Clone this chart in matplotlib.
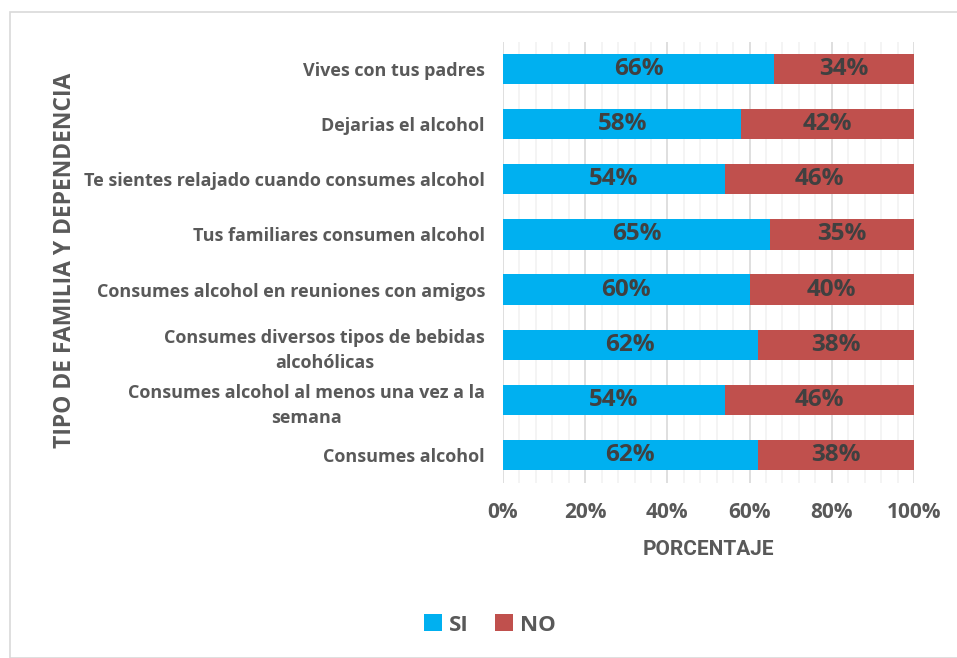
import matplotlib.pyplot as plt
from matplotlib.patches import Rectangle
from matplotlib.ticker import MultipleLocator, PercentFormatter

categories = [
    "Vives con tus padres",
    "Dejarias el alcohol",
    "Te sientes relajado cuando consumes alcohol",
    "Tus familiares consumen alcohol",
    "Consumes alcohol en reuniones con amigos",
    "Consumes diversos tipos de bebidas\nalcohólicas",
    "Consumes alcohol al menos una vez a la\nsemana",
    "Consumes alcohol",
]
si_values = [66, 58, 54, 65, 60, 62, 54, 62]
no_values = [34, 42, 46, 35, 40, 38, 46, 38]
series_names = ["SI", "NO"]
x_ticks = [0, 20, 40, 60, 80, 100]

FONT = "Open Sans"
plt.rcParams['font.family'] = [FONT, 'DejaVu Sans']

fig = plt.figure(figsize=(9.57, 6.58), dpi=100)
W, H = 957, 658
fig.patches.append(Rectangle((10 / W, 0), 1, 1 - 12 / H, transform=fig.transFigure,
                             fill=False, edgecolor='#D9D9D9', linewidth=1.2, zorder=0))

ax = fig.add_axes([503 / W, 1 - 482.5 / H, (914 - 503) / W, (482.5 - 41.5) / H])

y = list(range(len(categories)))
c_si = '#00B0F0'
c_no = '#C0504D'
b1 = ax.barh(y, si_values, height=0.55, color=c_si, label=series_names[0], zorder=3)
b2 = ax.barh(y, no_values, left=si_values, height=0.55, color=c_no, label=series_names[1], zorder=3)

for bars in (b1, b2):
    for r in bars:
        ax.text(r.get_x() + r.get_width() / 2, r.get_y() + r.get_height() / 2,
                f"{int(round(r.get_width()))}%", ha='center', va='center',
                fontsize=17.5, fontweight='bold', color='#404040', zorder=4)

ax.set_xlim(0, 100)
ax.set_ylim(len(categories) - 0.5, -0.5)
ax.set_xticks(x_ticks)
ax.xaxis.set_major_formatter(PercentFormatter(decimals=0))
ax.xaxis.set_minor_locator(MultipleLocator(4))
ax.grid(axis='x', which='major', color='#D9D9D9', linewidth=1.2, zorder=0)
ax.grid(axis='x', which='minor', color='#F2F2F2', linewidth=1.2, zorder=0)
ax.set_yticks(y)
ax.set_yticklabels(categories, multialignment='center', linespacing=1.5)
for s in ax.spines.values():
    s.set_visible(False)
ax.tick_params(axis='both', which='both', length=0)
ax.tick_params(axis='y', pad=13, labelsize=13, labelcolor='#595959')
ax.tick_params(axis='x', pad=14, labelsize=15, labelcolor='#595959')
for t in ax.get_yticklabels():
    t.set_fontweight('bold')
for t in ax.get_xticklabels():
    t.set_fontweight('bold')

ax.set_xlabel("PORCENTAJE", fontsize=15, fontweight='bold', color='#595959', labelpad=12,
              family=['Roboto', 'DejaVu Sans'])
fig.text(65 / W, 1 - 260 / H, "TIPO DE FAMILIA Y DEPENDENCIA", rotation=90,
         ha='center', va='center', fontsize=16.5, fontweight='bold', color='#595959')

leg = fig.legend(handles=[b1, b2], labels=series_names, loc='center',
                 bbox_to_anchor=(490 / W, 1 - 625 / H), ncol=2, frameon=False,
                 handlelength=0.8, handleheight=0.8, handletextpad=0.3, columnspacing=1.2,
                 prop={'family': FONT, 'weight': 'bold', 'size': 16})
for t in leg.get_texts():
    t.set_color('#595959')

fig.savefig("out.png", dpi=100)
